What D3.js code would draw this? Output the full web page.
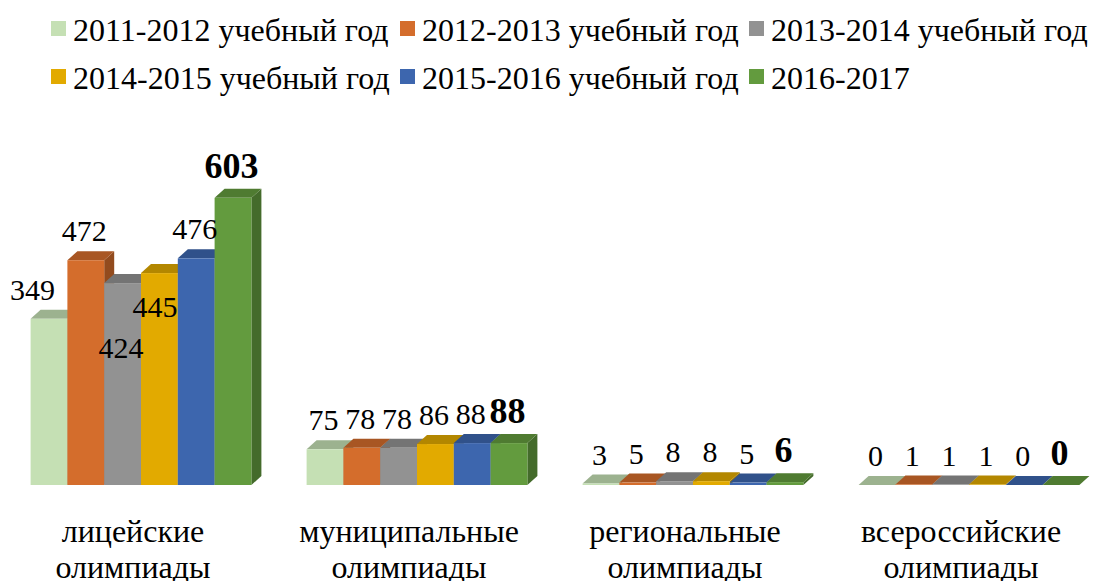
<!DOCTYPE html>
<html>
<head>
<meta charset="utf-8">
<script src="https://cdn.jsdelivr.net/npm/d3@7"></script>
<style>
  body { margin: 0; background: #fff; }
</style>
</head>
<body>
<div id="chart"></div>
<script>
// categories (two lines each) and series
var categories = [
  ["лицейские", "олимпиады"],
  ["муниципальные", "олимпиады"],
  ["региональные", "олимпиады"],
  ["всероссийские", "олимпиады"]
]
var seriesNames = [
  "2011-2012 учебный год",
  "2012-2013 учебный год",
  "2013-2014 учебный год",
  "2014-2015 учебный год",
  "2015-2016 учебный год",
  "2016-2017"
]
var values_2011_2012 = [349, 75, 3, 0]
var values_2012_2013 = [472, 78, 5, 1]
var values_2013_2014 = [424, 78, 8, 1]
var values_2014_2015 = [445, 86, 8, 1]
var values_2015_2016 = [476, 88, 5, 0]
var values_2016_2017 = [603, 88, 6, 0]
var seriesValues = [values_2011_2012, values_2012_2013, values_2013_2014,
                    values_2014_2015, values_2015_2016, values_2016_2017]
var seriesColors = ["#c5e0b4", "#d46d2c", "#929292", "#e2aa00", "#3d66ae", "#639b3e"]

var width = 1094, height = 581
var depth = {"dx": 10, "dy": 9}
var baseline = 485
var serif = "'Liberation Serif', 'DejaVu Serif', serif"

var svg = d3.select("#chart").append("svg")
  .attr("width", width)
  .attr("height", height)
  .attr("font-family", serif)

// legend
var legend = svg.append("g").attr("class", "legend")
seriesNames.forEach(function(name, i) {
  var lx = 51 + (i % 3) * 349
  var ly = Math.floor(i / 3) * 48
  legend.append("rect")
    .attr("x", lx)
    .attr("y", ly + 21)
    .attr("width", 15)
    .attr("height", 15)
    .attr("fill", seriesColors[i])
  legend.append("text")
    .attr("x", lx + 22)
    .attr("y", ly + 41)
    .attr("font-family", serif)
    .attr("font-size", 32)
    .text(name)
})

// scales
var x0 = d3.scaleBand()
  .domain(d3.range(categories.length))
  .range([3, 1107])
  .paddingInner(0.2)
  .paddingOuter(0.1)
var x1 = d3.scaleBand()
  .domain(d3.range(seriesNames.length))
  .range([0, x0.bandwidth()])
var y = d3.scaleLinear()
  .domain([0, 630])
  .range([baseline, baseline - 300])

// label nudges where the original puts labels off their bars
var label_nudges = {"0,0": [-15, 0], "0,2": [0, 94], "0,3": [-3, 63]}

var bars = svg.append("g").attr("class", "bars")
var labels = svg.append("g").attr("class", "labels")

categories.forEach(function(cat, c) {
  seriesValues.forEach(function(vals, s) {
    var v = vals[c]
    var xl = x0(c) + x1(s)
    var xr = xl + x1.bandwidth()
    var yt = y(v)
    var yb = y(0)
    var col = d3.color(seriesColors[s])
    var g = bars.append("g").attr("class", "bar")

    // right side
    g.append("path")
      .attr("d", "M" + xr + "," + yt + "L" + (xr + depth.dx) + "," + (yt - depth.dy) +
        "L" + (xr + depth.dx) + "," + (yb - depth.dy) + "L" + xr + "," + yb + "Z")
      .attr("fill", col.darker(1.05))
    // top
    g.append("path")
      .attr("d", "M" + xl + "," + yt + "L" + xr + "," + yt +
        "L" + (xr + depth.dx) + "," + (yt - depth.dy) + "L" + (xl + depth.dx) + "," + (yt - depth.dy) + "Z")
      .attr("fill", col.darker(0.65))
    // front
    g.append("rect")
      .attr("x", xl)
      .attr("y", yt)
      .attr("width", x1.bandwidth())
      .attr("height", yb - yt)
      .attr("fill", col)

    var nudge = label_nudges[c + "," + s] || [0, 0]
    var last = (s === seriesNames.length - 1)
    labels.append("text")
      .attr("x", (xl + xr) / 2 - 1.5 + nudge[0])
      .attr("y", yt - (last ? 20 : 19) + nudge[1])
      .attr("text-anchor", "middle")
      .attr("font-family", serif)
      .attr("font-size", last ? 36 : 30)
      .attr("font-weight", last ? "bold" : "normal")
      .text(v)
  })
})

// category labels
var axis = svg.append("g").attr("class", "categories")
categories.forEach(function(cat, c) {
  var cx = x0(c) + x0.bandwidth() / 2 - 8
  var t = axis.append("text")
    .attr("x", cx)
    .attr("y", 542)
    .attr("text-anchor", "middle")
    .attr("font-family", serif)
    .attr("font-size", 32)
  cat.forEach(function(line, i) {
    t.append("tspan")
      .attr("x", cx)
      .attr("dy", i === 0 ? 0 : 36)
      .text(line)
  })
})
</script>
</body>
</html>
